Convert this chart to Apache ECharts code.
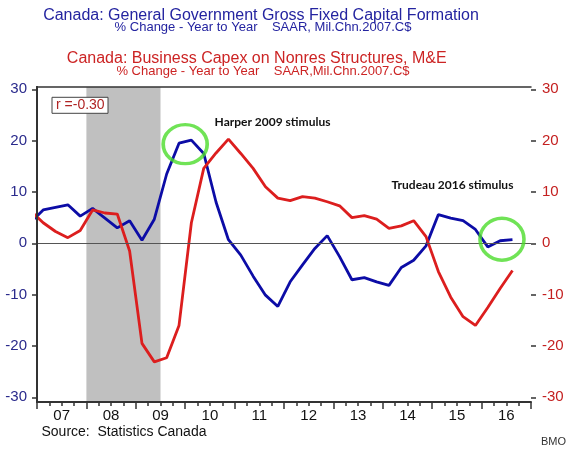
<!DOCTYPE html>
<html>
<head>
<meta charset="utf-8">
<script src="https://cdn.jsdelivr.net/npm/echarts@6/dist/echarts.min.js"></script>
<style>html,body{margin:0;padding:0;background:#fff}#c{width:570px;height:449px}</style>
</head>
<body>
<div id="c"></div>
<script>
// Quarter index: 0 = 2007Q1 (points plotted at mid-quarter, x = q + 0.5); -1 = 2006Q4
var quarters = [-1,0,1,2,3,4,5,6,7,8,9,10,11,12,13,14,15,16,17,18,19,20,21,22,23,24,25,26,27,28,29,30,31,32,33,34,35,36,37,38];
var govGFCF = [4.1,6.5,7.0,7.5,5.3,6.8,4.9,3.0,4.4,0.6,4.7,13.5,19.5,20.1,17.5,8.0,0.7,-2.3,-6.4,-10.1,-12.3,-7.5,-4.2,-1.0,1.5,-2.6,-7.1,-6.7,-7.5,-8.2,-4.7,-3.3,-0.5,5.6,4.9,4.4,2.7,-0.7,0.5,0.7];
var bizCapex = [6.3,4.0,2.3,1.1,2.5,6.5,5.9,5.7,-1.5,-19.5,-23.1,-22.3,-16.0,4.0,14.6,17.6,20.3,17.5,14.6,11.0,8.8,8.3,9.1,8.8,8.1,7.3,5.0,5.4,4.7,2.9,3.4,4.4,1.3,-5.5,-10.5,-14.3,-16.0,-12.5,-8.8,-5.3];
var yearLabels = ['07','08','09','10','11','12','13','14','15','16'];
var yTicks = [-30,-20,-10,0,10,20,30];
var recession = [4, 10]; // 2008Q1 .. 2009Q2 end
var circles = [[12.0, 19.3], [37.65, 0.8]];
var circleSizes = [[44, 39], [44, 42]];

function pairs(vals){ return quarters.map(function(q,i){ return [q + 0.5, vals[i]]; }); }

var chart = echarts.init(document.getElementById('c'), null, {renderer:'canvas'});
var axisCol = '#333';
var option = {
  animation: false,
  backgroundColor: '#fff',
  grid: [
    {left: 37, right: 39, top: 87, bottom: 47},
    {left: 37, right: 39, top: 89.3, bottom: 51.7}
  ],
  xAxis: [
    {gridIndex:0, type:'value', min:0, max:40, interval:1, position:'bottom', z:5,
     axisLine:{show:true, lineStyle:{color:axisCol, width:2}},
     axisTick:{show:true, length:4, lineStyle:{color:axisCol, width:1.5}},
     axisLabel:{show:true, margin:6, fontSize:15, color:'#111', fontFamily:'Liberation Sans',
       formatter:function(v){ var k = Math.round(v); if (k % 4 === 2) { return yearLabels[(k-2)/4] || ''; } return ''; }},
     splitLine:{show:false}},
    {gridIndex:0, type:'value', min:0, max:40, interval:4, position:'bottom', z:5,
     axisLine:{show:false}, axisTick:{show:true, length:7, lineStyle:{color:axisCol, width:1.5}},
     axisLabel:{show:false}, splitLine:{show:false}},
    {gridIndex:0, type:'value', min:0, max:40, position:'top', z:5,
     axisLine:{show:true, lineStyle:{color:axisCol, width:1.5}}, axisTick:{show:false},
     axisLabel:{show:false}, splitLine:{show:false}},
    {gridIndex:1, type:'value', min:0, max:40, show:false}
  ],
  yAxis: [
    {gridIndex:0, type:'value', min:0, max:1, position:'left', z:5,
     axisLine:{show:true, lineStyle:{color:axisCol, width:2}}, axisTick:{show:false}, axisLabel:{show:false}, splitLine:{show:false}},
    {gridIndex:0, type:'value', min:0, max:1, position:'right', z:5,
     axisLine:{show:true, lineStyle:{color:axisCol, width:2}}, axisTick:{show:false}, axisLabel:{show:false}, splitLine:{show:false}},
    {gridIndex:1, type:'value', min:yTicks[0], max:yTicks[yTicks.length-1], interval:10, position:'left', z:5,
     axisLine:{show:false}, axisTick:{show:true, inside:false, length:5, lineStyle:{color:axisCol, width:1.5}},
     axisLabel:{margin:10, fontSize:15, color:'#2a2a8c', fontFamily:'Liberation Sans'}, splitLine:{show:false}},
    {gridIndex:1, type:'value', min:yTicks[0], max:yTicks[yTicks.length-1], interval:10, position:'right', z:5,
     axisLine:{show:false}, axisTick:{show:true, inside:false, length:5, lineStyle:{color:axisCol, width:1.5}},
     axisLabel:{margin:11, fontSize:15, color:'#c42020', fontFamily:'Liberation Sans'}, splitLine:{show:false}}
  ],
  series: [
    {type:'line', xAxisIndex:0, yAxisIndex:0, data:[], z:1, silent:true,
     markArea:{silent:true, itemStyle:{color:'#c0c0c0'}, data:[[{xAxis:recession[0]},{xAxis:recession[1]}]]}},
    {type:'line', xAxisIndex:3, yAxisIndex:2, data:[], z:2, silent:true,
     markLine:{silent:true, symbol:['none','none'], label:{show:false}, lineStyle:{color:'#555', width:1, type:'solid'}, data:[{yAxis:0}]}},
    {name:'gov', type:'line', xAxisIndex:3, yAxisIndex:2, data:pairs(govGFCF), showSymbol:false, clip:true, z:3,
     lineStyle:{color:'#0c0ca6', width:2.8}, itemStyle:{color:'#0c0ca6'}},
    {name:'biz', type:'line', xAxisIndex:3, yAxisIndex:3, data:pairs(bizCapex), showSymbol:false, clip:true, z:4,
     lineStyle:{color:'#dc1e1e', width:2.8}, itemStyle:{color:'#dc1e1e'}},
    {type:'scatter', xAxisIndex:3, yAxisIndex:2, z:6, silent:true,
     data: circles.map(function(c,i){ return {value:c, symbolSize:circleSizes[i]}; }),
     symbol:'circle', itemStyle:{color:'rgba(0,0,0,0)', borderColor:'#4cdc2c', borderWidth:3.5}}
  ],
  graphic: [
    {type:'text', x:261, y:15.5, style:{text:'Canada: General Government Gross Fixed Capital Formation', fill:'#2424a0', font:'16px "Liberation Sans"', textAlign:'center', textVerticalAlign:'middle'}},
    {type:'text', x:263, y:27.5, style:{text:'% Change - Year to Year    SAAR, Mil.Chn.2007.C$', fill:'#2424a0', font:'13px "Liberation Sans"', textAlign:'center', textVerticalAlign:'middle'}},
    {type:'text', x:256.7, y:59, style:{text:'Canada: Business Capex on Nonres Structures, M&E', fill:'#cc2424', font:'16px "Liberation Sans"', textAlign:'center', textVerticalAlign:'middle'}},
    {type:'text', x:263, y:71, style:{text:'% Change - Year to Year    SAAR,Mil.Chn.2007.C$', fill:'#cc2424', font:'13px "Liberation Sans"', textAlign:'center', textVerticalAlign:'middle'}},
    {type:'rect', z:10, shape:{x:52, y:97.3, width:56, height:16}, style:{fill:'#fff', stroke:'#444', lineWidth:1}},
    {type:'text', z:11, x:56, y:105.5, style:{text:'r =-0.30', fill:'#b02424', font:'14px "Liberation Sans"', textAlign:'left', textVerticalAlign:'middle'}},
    {type:'text', z:11, x:272.5, y:121.7, style:{text:'Harper 2009 stimulus', fill:'#111', font:'bold 12px Lato', textAlign:'center', textVerticalAlign:'middle'}},
    {type:'text', z:11, x:452.5, y:185, style:{text:'Trudeau 2016 stimulus', fill:'#111', font:'bold 12px Lato', textAlign:'center', textVerticalAlign:'middle'}},
    {type:'text', z:11, x:41.5, y:432, style:{text:'Source:  Statistics Canada', fill:'#111', font:'14px "Liberation Sans"', textAlign:'left', textVerticalAlign:'middle'}},
    {type:'text', z:11, x:541, y:442, style:{text:'BMO', fill:'#333', font:'11px "Liberation Sans"', textAlign:'left', textVerticalAlign:'middle'}}
  ]
};
chart.setOption(option);
</script>
</body>
</html>
